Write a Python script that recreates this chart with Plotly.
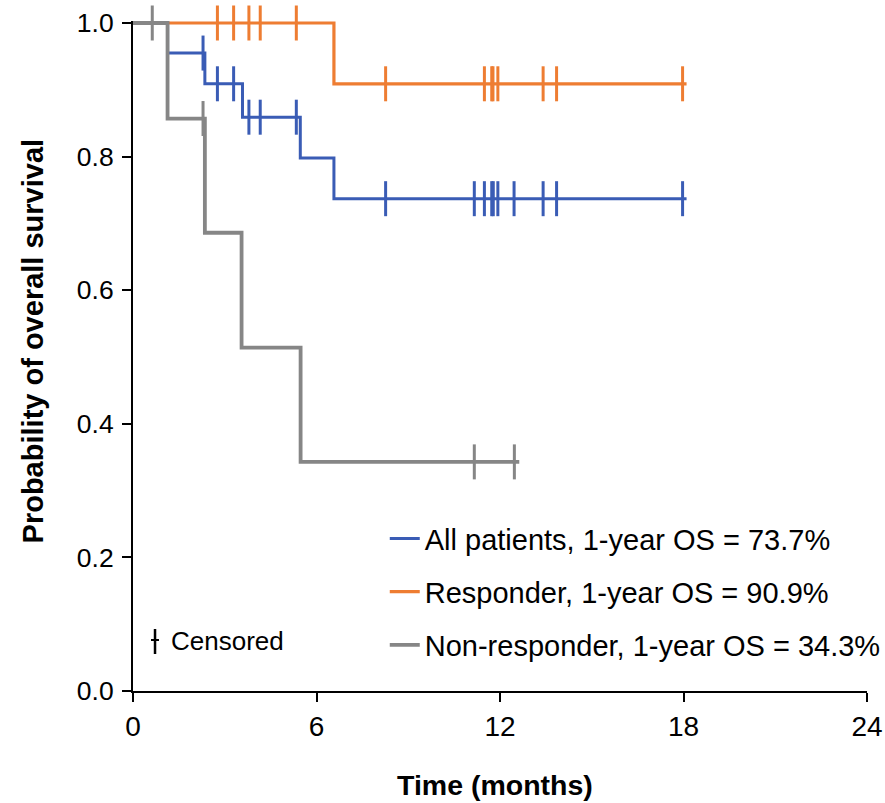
import plotly.graph_objects as go

# ---- Data ----
all_times = [0, 1.13, 2.35, 3.58, 5.47, 6.57, 18.1]
all_surv = [1.0, 0.955, 0.909, 0.859, 0.798, 0.737, 0.737]
all_censor = [2.29, 2.76, 3.29, 3.79, 4.16, 5.34, 8.26, 11.16, 11.49, 11.73,
              11.78, 11.93, 12.46, 13.41, 13.85, 17.97]

resp_times = [0, 6.57, 18.1]
resp_surv = [1.0, 0.909, 0.909]
resp_censor = [2.76, 3.29, 3.79, 4.16, 5.34, 8.26, 11.49, 11.73, 11.77, 11.93,
               13.41, 13.85, 17.97]

nonresp_times = [0, 1.13, 2.35, 3.55, 5.48, 12.63]
nonresp_surv = [1.0, 0.857, 0.686, 0.514, 0.343, 0.343]
nonresp_censor = [0.63, 2.29, 11.16, 12.47]

names = ["All patients, 1-year OS = 73.7%",
         "Responder, 1-year OS = 90.9%",
         "Non-responder, 1-year OS = 34.3%"]

x_ticks = [0, 6, 12, 18, 24]
y_ticks = [0.0, 0.2, 0.4, 0.6, 0.8, 1.0]

BLUE = "#3A5CB5"
ORANGE = "#EE7D32"
GRAY = "#868686"
FONT = "Liberation Sans, Arial, sans-serif"
NARROW = "Liberation Sans Narrow, Arial Narrow, Liberation Sans, sans-serif"


def step_value(times, surv, t):
    v = surv[0]
    for ti, si in zip(times, surv):
        if ti <= t:
            v = si
    return v


fig = go.Figure()

series = [
    (resp_times, resp_surv, resp_censor, ORANGE, names[1], 2, 3.2),
    (all_times, all_surv, all_censor, BLUE, names[0], 1, 3.0),
    (nonresp_times, nonresp_surv, nonresp_censor, GRAY, names[2], 3, 3.8),
]

for times, surv, cens, color, name, rank, lw in series:
    fig.add_trace(go.Scatter(
        x=times, y=surv, mode="lines", line=dict(color=color, width=lw, shape="hv"),
        name=name, legendrank=rank, legendgroup=name, hoverinfo="skip",
        cliponaxis=False))
    fig.add_trace(go.Scatter(
        x=cens, y=[step_value(times, surv, c) for c in cens], mode="markers",
        marker=dict(symbol="line-ns", size=25, line=dict(color=color, width=3)),
        showlegend=False, legendgroup=name, hoverinfo="skip", cliponaxis=False))

fig.update_layout(
    width=885, height=803,
    margin=dict(l=133, r=18, t=21, b=112, autoexpand=False),
    paper_bgcolor="white", plot_bgcolor="white",
    font=dict(family=FONT, size=26, color="#000"),
    showlegend=True,
    legend=dict(x=0.343, y=0.2655, xanchor="left", yanchor="top",
                font=dict(size=29, family=FONT, color="#000"),
                bgcolor="rgba(0,0,0,0)", tracegroupgap=12.5,
                itemwidth=30),
    xaxis=dict(range=[0, 24], tickvals=x_ticks, ticktext=[str(v) for v in x_ticks],
               showgrid=False, zeroline=False, showline=True, linecolor="#000",
               linewidth=2, ticks="outside", ticklen=9, tickwidth=2, tickcolor="#000",
               tickfont=dict(size=28, family=NARROW, color="#000"), automargin=False),
    yaxis=dict(range=[0, 1.003], tickvals=y_ticks, ticktext=[f"{v:.1f}" for v in y_ticks],
               showgrid=False, zeroline=False, showline=True, linecolor="#000",
               linewidth=2, ticks="outside", ticklen=9, tickwidth=2, tickcolor="#000",
               tickfont=dict(size=26.5, family=FONT, color="#000"), ticklabelstandoff=3,
               automargin=False),
    annotations=[
        dict(text="<b>Time (months)</b>", xref="paper", yref="paper", x=0.493, y=-0.140,
             xanchor="center", yanchor="middle", showarrow=False,
             font=dict(size=28.5, family=FONT, color="#000")),
        dict(text="<b>Probability of overall survival</b>", xref="paper", yref="paper",
             x=-0.136, y=0.522, xanchor="center", yanchor="middle", textangle=-90,
             showarrow=False, font=dict(size=29, family=FONT, color="#000")),
        dict(text="Censored", xref="paper", yref="paper", x=0.049, y=0.0746,
             xanchor="left", yanchor="middle", showarrow=False,
             font=dict(size=26, family=FONT, color="#000")),
    ],
    shapes=[
        dict(type="line", xref="paper", yref="paper", x0=0.030, x1=0.030,
             y0=0.0552, y1=0.0925, line=dict(color="#000", width=2.5)),
        dict(type="line", xref="paper", yref="paper", x0=0.0245, x1=0.0354,
             y0=0.0761, y1=0.0761, line=dict(color="#000", width=2)),
    ],
)

fig.write_html("out.html",
               config={"displayModeBar": False},
               post_script="document.body.style.margin='0';"
                           "document.body.style.overflow='hidden';")
